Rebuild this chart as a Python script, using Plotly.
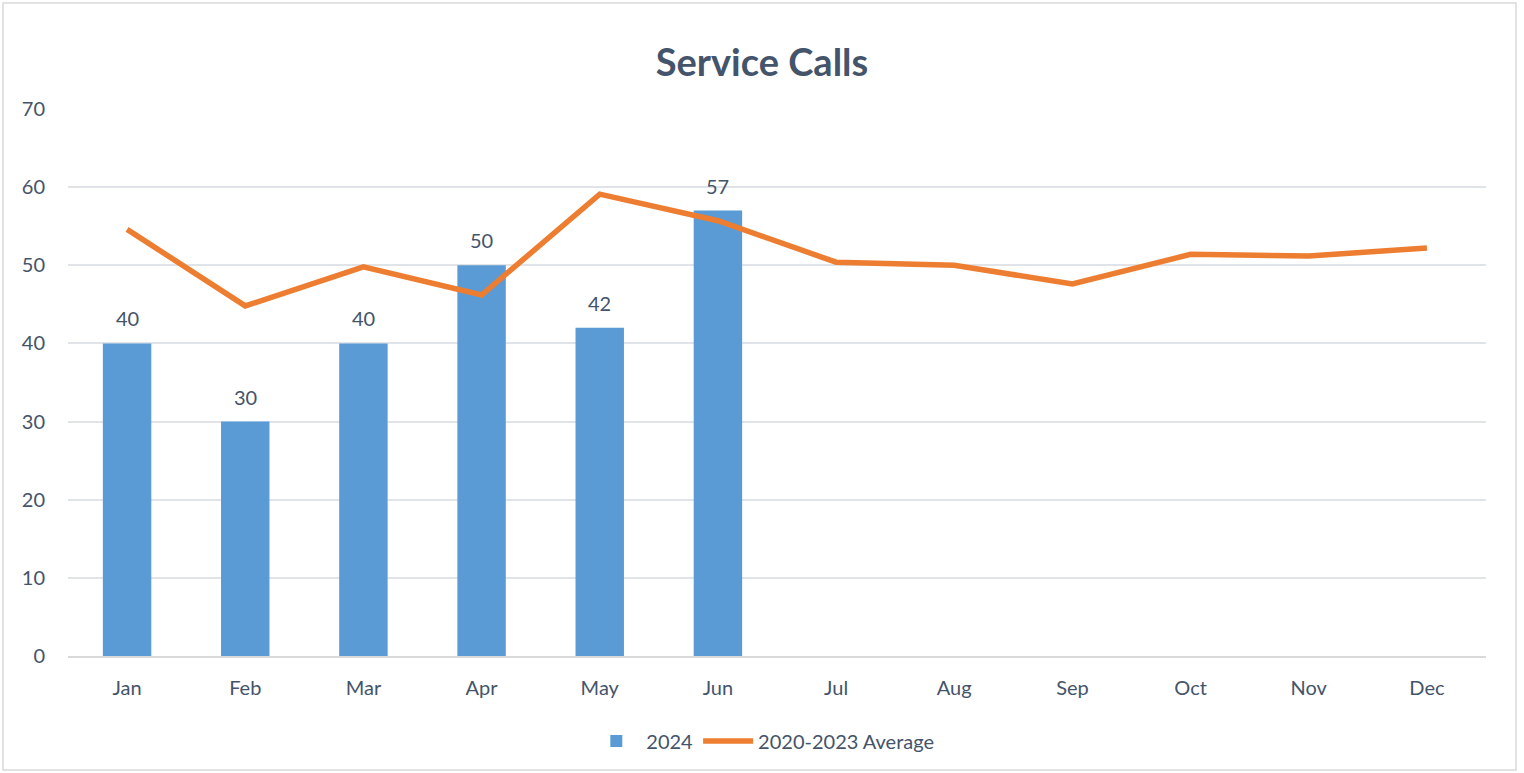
import plotly.graph_objects as go

months = ["Jan", "Feb", "Mar", "Apr", "May", "Jun", "Jul", "Aug", "Sep", "Oct", "Nov", "Dec"]
calls_2024 = [40, 30, 40, 50, 42, 57]
avg_2020_2023 = [54.6, 44.8, 49.8, 46.2, 59.1, 55.7, 50.4, 50.0, 47.6, 51.4, 51.2, 52.2]
y_ticks = [0, 10, 20, 30, 40, 50, 60, 70]

text_color = "#44546a"
font_family = "Lato, Carlito, Calibri, sans-serif"

fig = go.Figure()
fig.add_trace(go.Bar(
    x=months[:len(calls_2024)], y=calls_2024, name="2024",
    marker=dict(color="#5b9bd5", line=dict(width=0)),
))
fig.add_trace(go.Scatter(
    x=months, y=avg_2020_2023, name="2020-2023 Average", mode="lines",
    line=dict(color="#ed7d31", width=5.5),
))

L, R, T, B = 68, 38, 109, 117
W, H = 1524, 773
pw = W - L - R
ph = H - T - B

annotations = [
    dict(x=m, y=v, xref="x", yref="y", text=str(v), showarrow=False,
         yshift=25, yanchor="middle", xanchor="center",
         font=dict(size=20, color=text_color, family=font_family))
    for m, v in zip(months, calls_2024)
]

fig.update_layout(
    width=W, height=H,
    margin=dict(l=L, r=R, t=T, b=B, pad=0),
    paper_bgcolor="white", plot_bgcolor="white",
    font=dict(family=font_family, color=text_color, size=20),
    title=dict(text="<b>Service Calls</b>", x=0.5, xanchor="center", y=1 - 63 / H, yanchor="middle",
               font=dict(size=38, color=text_color, family=font_family)),
    bargap=0.59,
    showlegend=True,
    legend=dict(orientation="h", x=0.49, xanchor="center", y=(656 - 741) / ph, yanchor="middle",
                font=dict(size=20, color=text_color), itemwidth=50, traceorder="normal"),
    hovermode=False,
    annotations=annotations,
    xaxis=dict(categoryorder="array", categoryarray=months, type="category",
               range=[-0.5, len(months) - 0.5],
               showgrid=False, showline=True, linecolor="#d9d9d9", linewidth=2,
               ticks="", ticklabelstandoff=13, tickfont=dict(size=20, color=text_color),
               zeroline=False),
    yaxis=dict(range=[0, 70], tickvals=y_ticks, showgrid=True, gridcolor="#e0e3e8", gridwidth=1.5,
               zeroline=False, showline=False, ticks="", ticklabelstandoff=22,
               tickfont=dict(size=20, color=text_color)),
    shapes=[dict(type="rect", xref="paper", yref="paper",
                 x0=(3 - L) / pw, x1=(1516 - L) / pw,
                 y0=(656 - 770) / ph, y1=(656 - 3) / ph,
                 line=dict(color="#d9d9d9", width=1.5), fillcolor="rgba(0,0,0,0)", layer="below")],
)

fig.write_html("out.html", config={"displayModeBar": False},
               post_script="document.body.style.margin='0';document.body.style.overflow='hidden';")
